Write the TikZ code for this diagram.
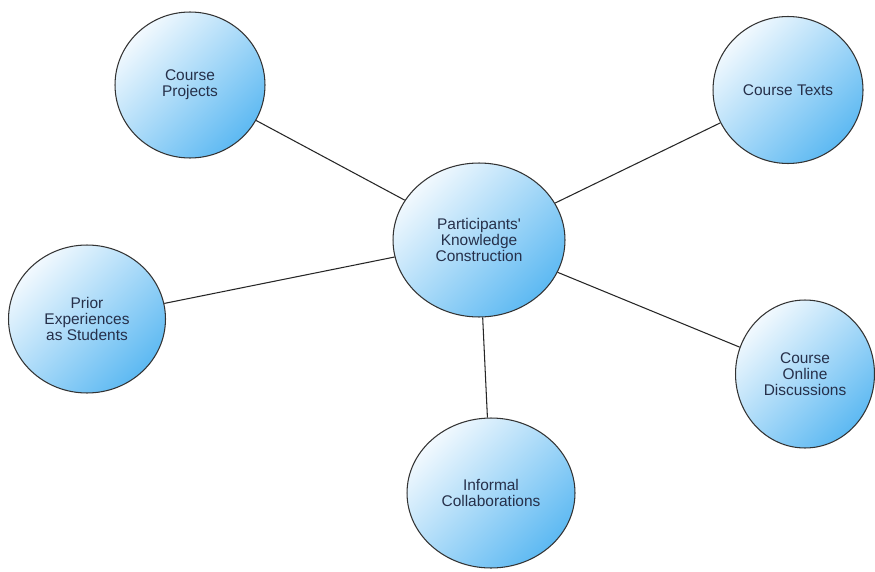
\documentclass[tikz,border=0pt]{standalone}
\usepackage{fontspec}
\setmainfont{Liberation Sans}
\usetikzlibrary{shapes.geometric}
\definecolor{bubblelight}{HTML}{F2F9FE}
\definecolor{bubbleblue}{HTML}{5DB9F2}
\definecolor{bubbletext}{HTML}{26304A}
\begin{document}
\begin{tikzpicture}[x=0.02cm, y=-0.02cm,
    bubble/.style={ellipse, draw=black!80, line width=0.6pt, inner sep=0pt,
      left color=bubblelight, right color=bubbleblue, shading angle=45,
      align=center, text=bubbletext, font=\fontsize{8.8}{9.2}\selectfont},
    link/.style={draw=black!85, line width=0.6pt}]
    \useasboundingbox (0, 0) rectangle (875, 571);
    \fill[white] (0, 0) rectangle (875, 571);
    \node[bubble, minimum width=3.44cm, minimum height=3.08cm] (ctr) at (479, 240) {Participants\textquotesingle\\Knowledge\\Construction};
    \node[bubble, minimum width=3.0cm, minimum height=2.92cm] (proj) at (190, 85) {Course\\Projects};
    \node[bubble, minimum width=3.0cm, minimum height=2.94cm] (texts) at (788, 90) {Course Texts};
    \node[bubble, minimum width=3.14cm, minimum height=2.96cm] (prior) at (87, 319) {Prior\\Experiences\\as Students};
    \node[bubble, minimum width=2.78cm, minimum height=2.96cm] (online) at (805, 374) {Course\\Online\\Discussions};
    \node[bubble, minimum width=3.36cm, minimum height=3.0cm] (informal) at (491, 493) {Informal\\Collaborations};
    \draw[link] (proj) -- (ctr);
    \draw[link] (texts) -- (ctr);
    \draw[link] (prior) -- (ctr);
    \draw[link] (online) -- (ctr);
    \draw[link] (informal) -- (ctr);
  \end{tikzpicture}
\end{document}
